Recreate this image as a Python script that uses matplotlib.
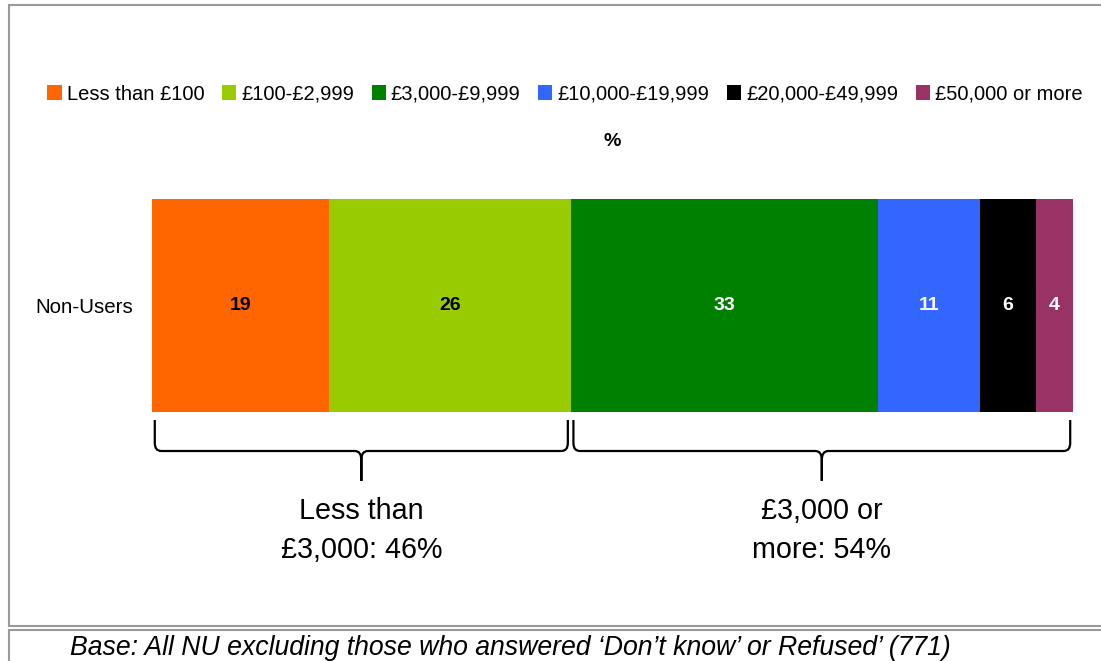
import matplotlib.pyplot as plt
from matplotlib.patches import Patch, PathPatch
from matplotlib.path import Path
from matplotlib.transforms import blended_transform_factory

plt.rcParams['font.family'] = ['Liberation Sans', 'DejaVu Sans']

group = "Non-Users"
bands = ["Less than £100", "£100-£2,999", "£3,000-£9,999",
         "£10,000-£19,999", "£20,000-£49,999", "£50,000 or more"]
shares = [19, 26, 33, 11, 6, 4]
colors = ["#FF6600", "#99CC00", "#008000", "#3366FF", "#000000", "#993366"]
label_colors = ["black", "black", "white", "white", "white", "white"]

# summary braces: (first band, last band, caption)
groups = [(0, 1, "Less than\n£3,000: 46%"),
          (2, 5, "£3,000 or\nmore: 54%")]

W, H = 1101, 661
fig = plt.figure(figsize=(W / 100, H / 100), dpi=100)

# pixel-space overlay for frame lines, braces and captions
ov = fig.add_axes([0, 0, 1, 1])
ov.set_xlim(0, W)
ov.set_ylim(H, 0)
ov.axis("off")

grey = "#999999"
ov.plot([W + 5, 9, 9, W + 5], [5, 5, 626, 626], color=grey, lw=1.5,
        solid_joinstyle="miter")
ov.plot([W + 5, 9, 9], [630, 630, H + 5], color=grey, lw=1.5,
        solid_joinstyle="miter")

ax = fig.add_axes([152 / W, 1 - 412 / H, 921 / W, 213 / H])
left = 0
for val, col, tcol in zip(shares, colors, label_colors):
    ax.barh(0, val, left=left, height=1, color=col)
    ax.text(left + val / 2, 0, str(val), ha="center", va="center",
            color=tcol, fontsize=14, fontweight="bold")
    left += val
ax.set_xlim(0, sum(shares))
ax.set_ylim(-0.5, 0.5)
ax.set_yticks([0])
ax.set_yticklabels([group], fontsize=14.8)
ax.tick_params(axis="y", length=0, pad=13.5)
ax.set_xticks([])
for s in ax.spines.values():
    s.set_visible(False)
ax.set_title("%", fontsize=14, fontweight="bold", pad=38.5)

handles = [Patch(facecolor=c, edgecolor="none") for c in colors]
fig.legend(handles, bands, loc="center", bbox_to_anchor=(565 / W, 1 - 94 / H),
           ncol=6, frameon=False, fontsize=14.5, handlelength=0.7,
           handleheight=0.7, handletextpad=0.25, columnspacing=0.88)

# curly braces under the bar, x in data units, y in pixels
tr = blended_transform_factory(ax.transData, ov.transData)
starts = [sum(shares[:i]) for i in range(len(shares))]
ends = [sum(shares[:i + 1]) for i in range(len(shares))]
top, flat, tip = 420, 451, 481
for a, b, caption in groups:
    x0 = starts[a] + 0.3
    x1 = ends[b] - 0.3
    xm = (starts[a] + ends[b]) / 2
    d = 0.7
    verts = [(x0, top), (x0, flat - 8), (x0, flat), (x0 + d, flat),
             (xm - d, flat), (xm, flat), (xm, flat + 9), (xm, tip),
             (xm, flat + 9), (xm, flat), (xm + d, flat),
             (x1 - d, flat), (x1, flat), (x1, flat - 8), (x1, top)]
    codes = [Path.MOVETO, Path.LINETO, Path.CURVE3, Path.CURVE3,
             Path.LINETO, Path.CURVE3, Path.CURVE3, Path.LINETO,
             Path.LINETO, Path.CURVE3, Path.CURVE3,
             Path.LINETO, Path.CURVE3, Path.CURVE3, Path.LINETO]
    ov.add_patch(PathPatch(Path(verts, codes), transform=tr, fill=False,
                           edgecolor="black", lw=1.6, capstyle="butt"))
    ov.text(xm, 530.5, caption, transform=tr, ha="center", va="center",
            fontsize=20.7, linespacing=1.52)

ov.text(70, 648, "Base: All NU excluding those who answered \u2018Don\u2019t know\u2019 "
        "or Refused\u2019 (771)", ha="left", va="center", fontsize=19.2,
        fontstyle="italic")

fig.savefig("out.png", dpi=100)
